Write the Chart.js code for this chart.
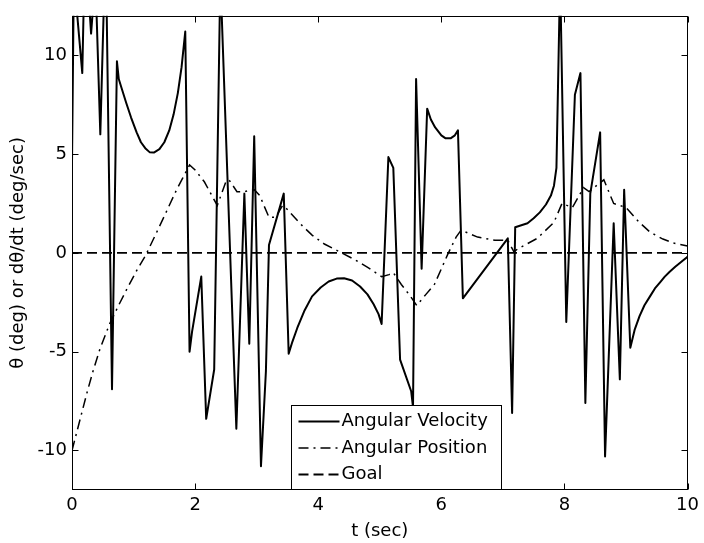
<!DOCTYPE html>
<html>
<head>
<meta charset="utf-8">
<script src="https://cdn.jsdelivr.net/npm/chart.js@4.4.1/dist/chart.umd.min.js"></script>
<style>
html,body{margin:0;padding:0;background:#fff;}
#wrap{width:704px;height:543px;}
</style>
</head>
<body>
<div id="wrap"><canvas id="c" width="704" height="543"></canvas></div>
<script>
// ---- data ----
const velT = [0, 0.03, 0.167, 0.2, 0.26, 0.31, 0.38, 0.46, 0.53, 0.56, 0.65, 0.73, 0.76, 0.8, 0.88, 0.96, 1.05, 1.12, 1.19, 1.26, 1.33, 1.42, 1.5, 1.58, 1.65, 1.72, 1.78, 1.84, 1.91, 1.95, 2.1, 2.18, 2.31, 2.41, 2.67, 2.8, 2.88, 2.96, 3.07, 3.15, 3.2, 3.44, 3.52, 3.58, 3.66, 3.78, 3.9, 4.04, 4.17, 4.3, 4.42, 4.55, 4.68, 4.8, 4.9, 4.98, 5.03, 5.14, 5.22, 5.33, 5.51, 5.54, 5.59, 5.68, 5.77, 5.83, 5.9, 6.0, 6.07, 6.15, 6.22, 6.27, 6.35, 7.08, 7.15, 7.2, 7.3, 7.4, 7.5, 7.6, 7.7, 7.78, 7.83, 7.87, 7.93, 8.03, 8.17, 8.26, 8.34, 8.42, 8.58, 8.66, 8.8, 8.9, 8.97, 9.07, 9.14, 9.22, 9.3, 9.39, 9.47, 9.55, 9.63, 9.71, 9.8, 9.9, 10];
const velV = [4.5, 14, 9.1, 14, 13.5, 11.1, 14, 6.0, 14, 13, -6.9, 9.7, 8.8, 8.4, 7.6, 6.85, 6.1, 5.6, 5.3, 5.1, 5.08, 5.25, 5.6, 6.2, 7.0, 8.1, 9.4, 11.2, -5.0, -4.0, -1.2, -8.4, -5.9, 14, -8.9, 3.0, -4.6, 5.9, -10.8, -6.0, 0.4, 3.0, -5.1, -4.5, -3.8, -2.9, -2.2, -1.75, -1.45, -1.3, -1.28, -1.4, -1.7, -2.1, -2.6, -3.1, -3.6, 4.85, 4.3, -5.4, -7.0, -7.8, 8.8, -0.8, 7.3, 6.75, 6.35, 5.95, 5.8, 5.8, 5.95, 6.2, -2.3, 0.74, -8.1, 1.3, 1.4, 1.5, 1.75, 2.05, 2.45, 2.9, 3.4, 4.3, 14, -3.5, 8.0, 9.1, -7.6, 3.0, 6.1, -10.3, 1.5, -6.4, 3.2, -4.8, -3.9, -3.2, -2.65, -2.2, -1.8, -1.5, -1.2, -0.95, -0.7, -0.45, -0.2];

const posT = [0, 0.05, 0.15, 0.25, 0.34, 0.45, 0.61, 0.75, 0.88, 1.05, 1.2, 1.4, 1.58, 1.7, 1.8, 1.91, 2.0, 2.15, 2.36, 2.5, 2.55, 2.68, 2.8, 2.96, 3.05, 3.2, 3.31, 3.42, 3.5, 3.7, 3.9, 4.1, 4.38, 4.6, 4.81, 5.03, 5.15, 5.22, 5.35, 5.5, 5.6, 5.75, 5.89, 6.1, 6.24, 6.32, 6.59, 6.87, 7.08, 7.18, 7.24, 7.56, 7.83, 7.96, 8.13, 8.31, 8.4, 8.64, 8.8, 9.0, 9.2, 9.39, 9.6, 9.77, 10];
const posV = [-10, -9.4, -8.2, -7.0, -6.0, -4.9, -3.6, -2.7, -1.9, -0.9, -0.1, 1.2, 2.4, 3.2, 3.8, 4.45, 4.2, 3.6, 2.4, 3.6, 3.7, 3.1, 3.1, 3.2, 2.9, 1.8, 1.8, 2.4, 2.2, 1.5, 0.9, 0.45, 0.0, -0.35, -0.75, -1.2, -1.1, -1.0, -1.6, -2.2, -2.66, -2.1, -1.58, -0.1, 0.8, 1.15, 0.8, 0.64, 0.64, 0.05, 0.2, 0.74, 1.55, 2.5, 2.3, 3.3, 3.1, 3.7, 2.5, 2.3, 1.6, 1.05, 0.7, 0.5, 0.35];

const goalT = [0, 10];
const goalV = [0, 0];

const xTickVals = [0, 2, 4, 6, 8, 10];
const yTickVals = [-10, -5, 0, 5, 10];
const seriesNames = ['Angular Velocity', 'Angular Position', 'Goal'];

// ---- build chart ----
const toXY = (ts, vs) => ts.map((t, i) => ({x: t, y: vs[i]}));

Chart.defaults.font.family = "'DejaVu Sans', sans-serif";
Chart.defaults.font.size = 18;
Chart.defaults.color = '#000';

const boxPlugin = {
  id: 'matlabBox',
  afterDatasetsDraw(chart) {
    const {ctx, chartArea: a, scales: {x, y}} = chart;
    const L = Math.round(a.left) + 0.5, R = Math.round(a.right) - 0.5;
    const T = Math.round(a.top) + 0.5, B = Math.round(a.bottom) - 0.5;
    ctx.save();
    ctx.strokeStyle = '#000';
    ctx.lineWidth = 1;
    ctx.setLineDash([]);
    ctx.strokeRect(L, T, R - L, B - T);
    ctx.beginPath();
    const tl = 6;
    xTickVals.forEach(v => {
      const px = Math.round(x.getPixelForValue(v)) + 0.5;
      ctx.moveTo(px, B); ctx.lineTo(px, B - tl);
      ctx.moveTo(px, T); ctx.lineTo(px, T + tl);
    });
    yTickVals.forEach(v => {
      const py = Math.round(y.getPixelForValue(v)) + 0.5;
      ctx.moveTo(L, py); ctx.lineTo(L + tl, py);
      ctx.moveTo(R, py); ctx.lineTo(R - tl, py);
    });
    ctx.stroke();

    // legend box (inside plot, bottom-centre)
    const bx = Math.round(a.left + 219) + 0.5;
    const bw = 210;
    const bh = 84;
    const by = B - bh;
    ctx.fillStyle = '#fff';
    ctx.fillRect(bx, by, bw, bh);
    ctx.strokeStyle = '#000';
    ctx.strokeRect(bx, by, bw, bh);
    ctx.font = "18px 'DejaVu Sans', sans-serif";
    ctx.textBaseline = 'middle';
    ctx.textAlign = 'left';
    chart.data.datasets.forEach((d, i) => {
      const cy = by + 16 + i * 26.5;
      ctx.beginPath();
      ctx.lineWidth = d.borderWidth;
      ctx.setLineDash(d.borderDash || []);
      ctx.moveTo(bx + 7, cy);
      ctx.lineTo(bx + 48, cy);
      ctx.stroke();
      ctx.setLineDash([]);
      ctx.fillStyle = '#000';
      ctx.fillText(d.label, bx + 50, cy);
    });
    ctx.restore();
  }
};

new Chart(document.getElementById('c'), {
  type: 'scatter',
  data: {
    datasets: [
      {label: seriesNames[0], data: toXY(velT, velV), showLine: true, borderColor: '#000', borderWidth: 2, pointRadius: 0, borderJoinStyle: 'round', tension: 0},
      {label: seriesNames[1], data: toXY(posT, posV), showLine: true, borderColor: '#000', borderWidth: 1.5, borderDash: [10, 5, 2, 5], pointRadius: 0, tension: 0},
      {label: seriesNames[2], data: toXY(goalT, goalV), showLine: true, borderColor: '#000', borderWidth: 1.8, borderDash: [10, 5], pointRadius: 0, tension: 0}
    ]
  },
  options: {
    responsive: false,
    animation: false,
    devicePixelRatio: 1,
    layout: {padding: {top: 6, right: 13, left: 0, bottom: 0}},
    plugins: {legend: {display: false}, tooltip: {enabled: false}},
    scales: {
      x: {
        type: 'linear', min: 0, max: 10,
        grid: {display: false, drawTicks: false},
        border: {display: false},
        afterBuildTicks: s => { s.ticks = xTickVals.map(v => ({value: v})); },
        afterFit: s => { s.height = 53; },
        ticks: {padding: 5, callback: v => String(v), maxRotation: 0, autoSkip: false},
        title: {display: true, text: 't (sec)', padding: {top: 0, bottom: 1}}
      },
      y: {
        type: 'linear', min: -12, max: 12,
        grid: {display: false, drawTicks: false},
        border: {display: false},
        afterBuildTicks: s => { s.ticks = yTickVals.map(v => ({value: v})); },
        afterFit: s => { s.width = 72; },
        ticks: {padding: 5, callback: v => String(v), autoSkip: false},
        title: {display: true, text: 'θ (deg) or dθ/dt (deg/sec)', padding: {top: 8, bottom: 0}}
      }
    }
  },
  plugins: [boxPlugin]
});
</script>
</body>
</html>
